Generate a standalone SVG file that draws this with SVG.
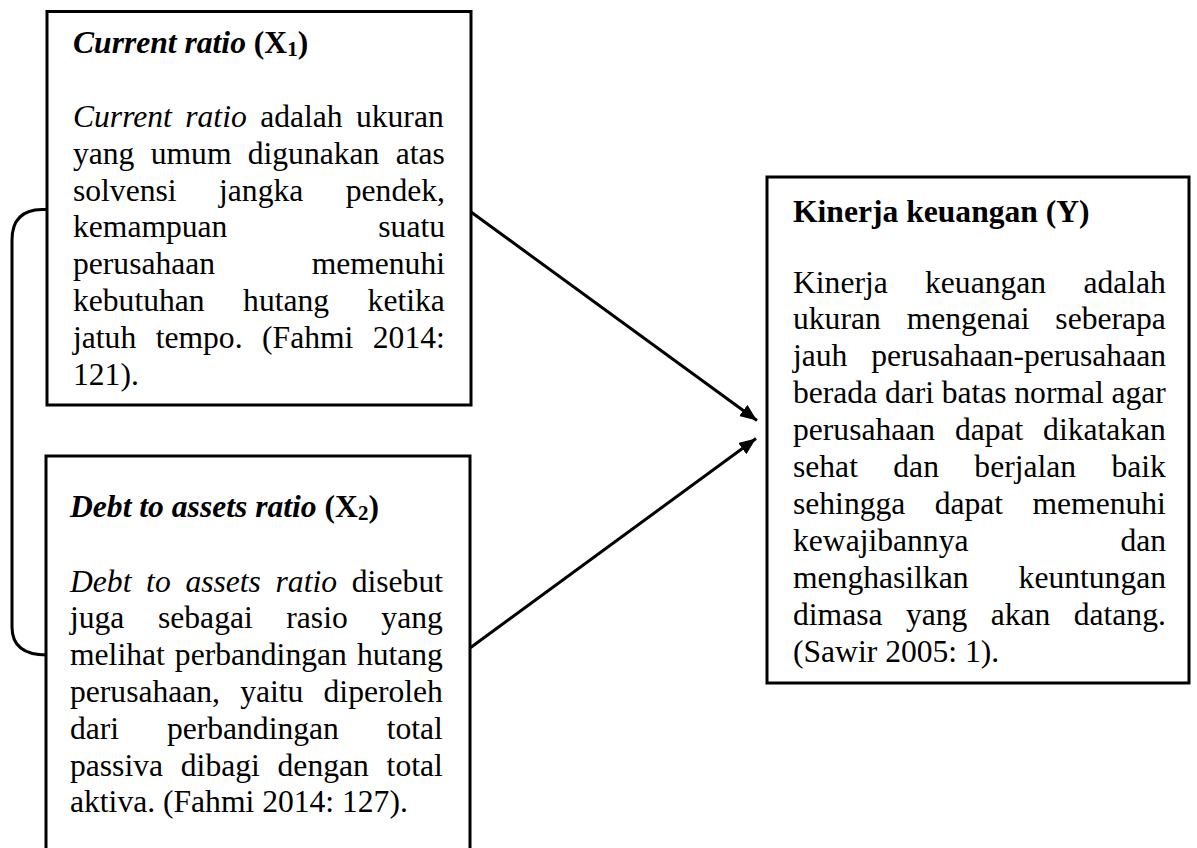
<svg xmlns="http://www.w3.org/2000/svg" width="1197" height="848" viewBox="0 0 1197 848">
<style>
.box{fill:#fff;stroke:#000;stroke-width:3}
text{font-family:"Liberation Serif","Times New Roman",serif;font-size:31.6px;fill:#000}
.b{font-weight:bold}
.i{font-style:italic}
.e{text-anchor:end}
.con{fill:none;stroke:#000;stroke-width:3}
</style>
<defs>
<marker id="ah" markerUnits="userSpaceOnUse" markerWidth="18" markerHeight="14" refX="17" refY="7" orient="auto">
<path d="M0,0 L17,7 L0,14 z" fill="#000"/>
</marker>
</defs>
<rect width="1197" height="848" fill="#fff"/>
<g id="connectors">
<path class="con" d="M47 209.5 L42 209.5 Q12 210 12 240 L12 627 Q12 655 47 655"/>
<line class="con" x1="471" y1="212" x2="757" y2="420.5" marker-end="url(#ah)"/>
<line class="con" x1="470" y1="648" x2="756" y2="438.5" marker-end="url(#ah)"/>
</g>
<g id="node-x1">
<rect class="box" x="47" y="11.5" width="424" height="393.5"/>
<text x="73" y="53" class="b"><tspan class="i">Current ratio</tspan> (X<tspan font-size="21" dy="3">1</tspan><tspan dy="-3">)</tspan></text>
<text x="73" y="127" word-spacing="5.5"><tspan class="i">Current ratio</tspan> adalah ukuran</text>
<text x="73" y="163.8" word-spacing="8.4">yang umum digunakan atas</text>
<text x="73" y="200.6" word-spacing="34.6">solvensi jangka pendek,</text>
<text x="73" y="237.4">kemampuan</text><text x="445" y="237.4" class="e">suatu</text>
<text x="73" y="274.2">perusahaan</text><text x="445" y="274.2" class="e">memenuhi</text>
<text x="73" y="311" word-spacing="30.6">kebutuhan hutang ketika</text>
<text x="73" y="347.8" word-spacing="11.6">jatuh tempo. (Fahmi 2014:</text>
<text x="73" y="384.6">121).</text>
</g>
<g id="node-x2">
<rect class="box" x="46" y="456" width="424" height="420"/>
<text x="70" y="517" class="b"><tspan class="i">Debt to assets ratio</tspan> (X<tspan font-size="21" dy="3">2</tspan><tspan dy="-3">)</tspan></text>
<text x="70" y="591.5" word-spacing="6.8"><tspan class="i">Debt to assets ratio</tspan> disebut</text>
<text x="70" y="628.3" word-spacing="25.7">juga sebagai rasio yang</text>
<text x="70" y="665.1" word-spacing="2.2">melihat perbandingan hutang</text>
<text x="70" y="701.9" word-spacing="12.3">perusahaan, yaitu diperoleh</text>
<text x="70" y="738.7" word-spacing="39.9">dari perbandingan total</text>
<text x="70" y="775.5" word-spacing="9.9">passiva dibagi dengan total</text>
<text x="70" y="812.3">aktiva. (Fahmi 2014: 127).</text>
</g>
<g id="node-y">
<rect class="box" x="767" y="177" width="422" height="506"/>
<text x="793" y="221.5" class="b">Kinerja keuangan (Y)</text>
<text x="793" y="292.5" word-spacing="29.4">Kinerja keuangan adalah</text>
<text x="793" y="329.4" word-spacing="18">ukuran mengenai seberapa</text>
<text x="793" y="366.3">jauh</text><text x="1166" y="366.3" class="e">perusahaan-perusahaan</text>
<text x="793" y="403.2" word-spacing="-0.2">berada dari batas normal agar</text>
<text x="793" y="440.1" word-spacing="11.9">perusahaan dapat dikatakan</text>
<text x="793" y="477" word-spacing="27.5">sehat dan berjalan baik</text>
<text x="793" y="513.9" word-spacing="21.5">sehingga dapat memenuhi</text>
<text x="793" y="550.8">kewajibannya</text><text x="1166" y="550.8" class="e">dan</text>
<text x="793" y="587.7">menghasilkan</text><text x="1166" y="587.7" class="e">keuntungan</text>
<text x="793" y="624.6" word-spacing="15.5">dimasa yang akan datang.</text>
<text x="793" y="661.5">(Sawir 2005: 1).</text>
</g>
</svg>
